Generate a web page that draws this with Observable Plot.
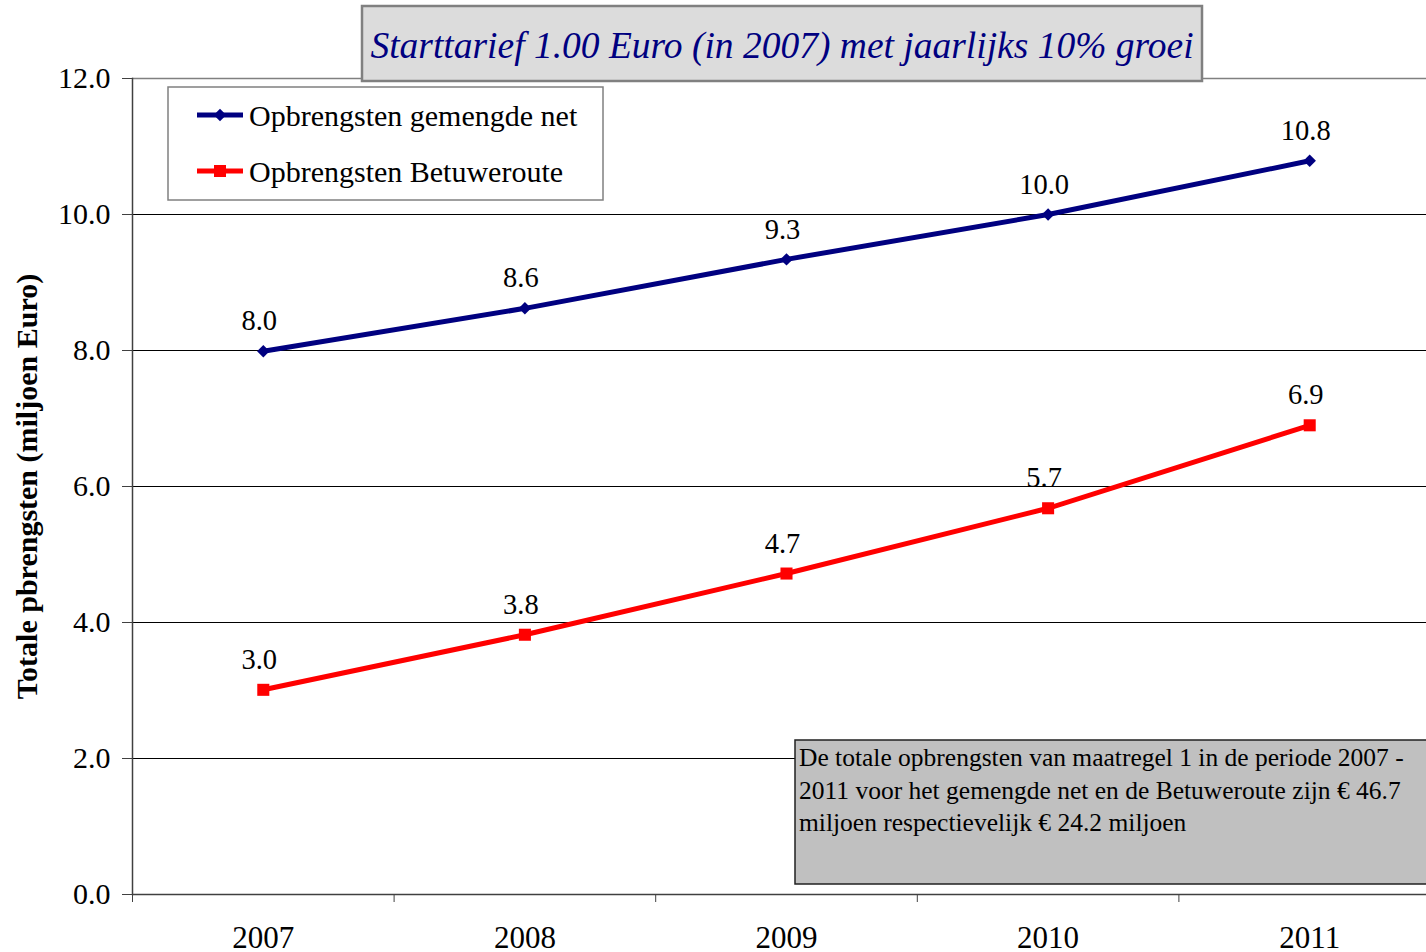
<!DOCTYPE html>
<html>
<head>
<meta charset="utf-8">
<script src="https://cdn.jsdelivr.net/npm/d3@7"></script>
<script src="https://cdn.jsdelivr.net/npm/@observablehq/plot@0.6"></script>
<style>
  html, body { margin: 0; padding: 0; background: #fff; overflow: hidden; }
  #chart { width: 1426px; height: 952px; overflow: hidden; position: relative; }
  #chart svg, #chart svg text { font-family: "Liberation Serif", "Times New Roman", serif !important; }
</style>
</head>
<body>
<div id="chart"></div>
<script>
const years = [2007, 2008, 2009, 2010, 2011];
const gemengdeNet = [7.99, 8.62, 9.34, 10.0, 10.79];
const betuweroute = [3.01, 3.82, 4.72, 5.68, 6.90];
const yTicks = [0, 2, 4, 6, 8, 10, 12];
const seriesNames = ["Opbrengsten gemengde net", "Opbrengsten Betuweroute"];
const titleText = "Starttarief 1.00 Euro (in 2007) met jaarlijks 10% groei";
const yTitle = "Totale pbrengsten (miljoen Euro)";
const noteLines = [
  "De totale opbrengsten van maatregel 1 in de periode 2007 -",
  "2011 voor het gemengde net en de Betuweroute zijn € 46.7",
  "miljoen respectievelijk € 24.2 miljoen"
];

const blue = years.map((y, i) => ({year: y, value: gemengdeNet[i]}));
const red = years.map((y, i) => ({year: y, value: betuweroute[i]}));
const boundaries = [2006.5, 2007.5, 2008.5, 2009.5, 2010.5, 2011.5];

const font = "Liberation Serif";
const W = 1440, H = 952;

const plot = Plot.plot({
  width: W,
  height: H,
  marginLeft: 132,
  marginRight: 0,
  marginTop: 78,
  marginBottom: 58,
  style: {maxWidth: "none", background: "white", overflow: "visible"},
  x: {domain: [2006.5, 2011.5]},
  y: {domain: [0, 12]},
  marks: [
    Plot.ruleY([2, 4, 6, 8, 10], {stroke: "#000", strokeWidth: 1}),
    Plot.ruleY([12], {stroke: "#808080", strokeWidth: 1.5}),
    Plot.ruleY([0], {stroke: "#404040", strokeWidth: 1.5}),
    Plot.frame({anchor: "left", stroke: "#404040", strokeWidth: 1.5}),
    Plot.axisY({ticks: yTicks, tickFormat: d => d.toFixed(1), tickSize: 10, tickPadding: 12,
      fontSize: 30, fontFamily: font, label: null, stroke: "#404040"}),
    Plot.axisX({ticks: boundaries, tickFormat: () => "", tickSize: 8, label: null, stroke: "#404040"}),
    Plot.axisX({ticks: years, tickFormat: d => String(d), tickSize: 0, tickPadding: 31,
      fontSize: 31, fontFamily: font, label: null}),
    Plot.line(blue, {x: "year", y: "value", stroke: "#000080", strokeWidth: 5}),
    Plot.dot(blue, {x: "year", y: "value", symbol: "diamond2", r: 5.6, fill: "#000080"}),
    Plot.line(red, {x: "year", y: "value", stroke: "#ff0000", strokeWidth: 5}),
    Plot.dot(red, {x: "year", y: "value", symbol: "square", r: 6.8, fill: "#ff0000"}),
    Plot.text(blue, {x: "year", y: "value", text: d => d.value.toFixed(1), dy: -30, dx: -4,
      fontSize: 28.5, fontFamily: font, fill: "#000"}),
    Plot.text(red, {x: "year", y: "value", text: d => d.value.toFixed(1), dy: -30, dx: -4,
      fontSize: 28.5, fontFamily: font, fill: "#000"}),
    Plot.text([yTitle], {frameAnchor: "left", text: d => d, rotate: -90, dx: -105,
      textAnchor: "middle", fontSize: 30, fontFamily: font, fontWeight: "bold", fill: "#000"})
  ]
});

document.getElementById("chart").appendChild(plot);

const svg = d3.select(plot);

// Title box
const tg = svg.append("g");
tg.append("rect").attr("x", 362).attr("y", 6).attr("width", 840).attr("height", 75)
  .attr("fill", "#dcdcdc").attr("stroke", "#808080").attr("stroke-width", 2.5);
tg.append("text").attr("x", 782).attr("y", 58).attr("text-anchor", "middle")
  .attr("font-family", font).attr("font-style", "italic").attr("font-size", 37.5)
  .attr("fill", "#000080").text(titleText);

// Legend
const lg = svg.append("g");
lg.append("rect").attr("x", 168).attr("y", 87).attr("width", 435).attr("height", 113)
  .attr("fill", "white").attr("stroke", "#808080").attr("stroke-width", 1.5);
const legendItems = [
  {name: seriesNames[0], color: "#000080", sym: d3.symbolDiamond2, size: 98, y: 115},
  {name: seriesNames[1], color: "#ff0000", sym: d3.symbolSquare, size: 145, y: 171}
];
legendItems.forEach(it => {
  lg.append("line").attr("x1", 197).attr("x2", 243).attr("y1", it.y).attr("y2", it.y)
    .attr("stroke", it.color).attr("stroke-width", 5);
  lg.append("path").attr("d", d3.symbol(it.sym, it.size)())
    .attr("transform", `translate(220,${it.y})`).attr("fill", it.color);
  lg.append("text").attr("x", 249).attr("y", it.y + 11).attr("text-anchor", "start")
    .attr("font-family", font).attr("font-size", 30).attr("fill", "#000").text(it.name);
});

// Note box
const ng = svg.append("g");
ng.append("rect").attr("x", 795).attr("y", 740).attr("width", 660).attr("height", 144)
  .attr("fill", "#c0c0c0").attr("stroke", "#202020").attr("stroke-width", 1.5);
noteLines.forEach((t, i) => {
  ng.append("text").attr("x", 799).attr("y", 766 + i * 32.5).attr("text-anchor", "start")
    .attr("font-family", font).attr("font-size", 25.5).attr("fill", "#000").text(t);
});
</script>
</body>
</html>
